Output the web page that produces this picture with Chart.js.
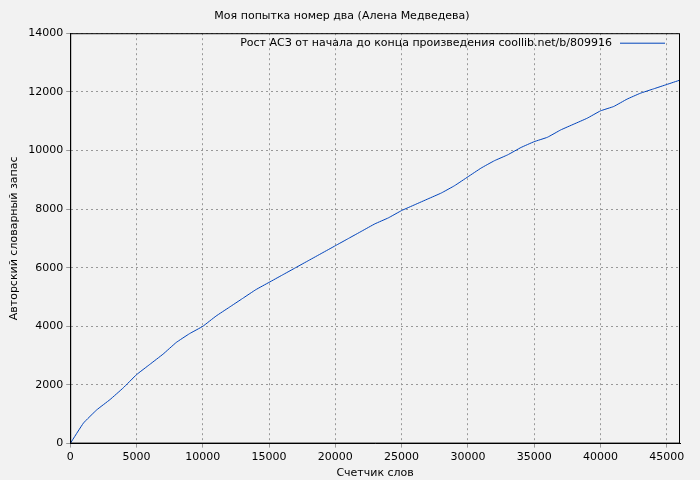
<!DOCTYPE html>
<html>
<head>
<meta charset="utf-8">
<script src="https://cdn.jsdelivr.net/npm/chart.js@4"></script>
<style>
  body { margin: 0; background: #f2f2f2; }
  #wrap { width: 700px; height: 480px; }
</style>
</head>
<body>
<div id="wrap"><canvas id="chart"></canvas></div>
<script>
const words = [0, 1000, 2000, 3000, 4000, 5000, 6000, 7000, 8000, 9000, 10000, 11000, 12000, 13000, 14000, 15000,
  16000, 17000, 18000, 19000, 20000, 21000, 22000, 23000, 24000, 25000, 26000, 27000, 28000, 29000, 30000,
  31000, 32000, 33000, 34000, 35000, 36000, 37000, 38000, 39000, 40000, 41000, 42000, 43000, 44000, 45000, 46000];
const vocab = [0, 700, 1150, 1500, 1900, 2350, 2700, 3050, 3450, 3750, 4000, 4350, 4650, 4950, 5250, 5500,
  5750, 6000, 6250, 6500, 6750, 7000, 7250, 7500, 7700, 7950, 8150, 8350, 8550, 8800, 9100,
  9400, 9650, 9850, 10100, 10300, 10450, 10700, 10900, 11100, 11350, 11500, 11750, 11950, 12100, 12250, 12400];
const xTicks = [0, 5000, 10000, 15000, 20000, 25000, 30000, 35000, 40000, 45000];
const seriesLabel = 'Рост АСЗ от начала до конца произведения coollib.net/b/809916';

const font = { family: 'DejaVu Sans', size: 11 };

// legend drawn inside the plot, gnuplot style
const innerLegend = {
  id: 'innerLegend',
  afterDraw(chart) {
    const { ctx, chartArea } = chart;
    ctx.save();
    ctx.font = '11px "DejaVu Sans"';
    ctx.fillStyle = '#000';
    ctx.textAlign = 'right';
    ctx.textBaseline = 'middle';
    const y = chartArea.top + 10;
    ctx.fillText(seriesLabel, chartArea.right - 68, y);
    ctx.strokeStyle = '#0044bb';
    ctx.lineWidth = 1;
    ctx.beginPath();
    ctx.moveTo(chartArea.right - 60, y);
    ctx.lineTo(chartArea.right - 15, y);
    ctx.stroke();
    ctx.restore();
  }
};

new Chart(document.getElementById('chart'), {
  type: 'line',
  data: {
    datasets: [{
      label: seriesLabel,
      data: words.map((w, i) => ({ x: w, y: vocab[i] })),
      borderColor: '#0044bb',
      borderWidth: 1,
      pointRadius: 0,
      tension: 0.1,
      fill: false
    }]
  },
  options: {
    responsive: true,
    maintainAspectRatio: false,
    animation: false,
    layout: { padding: { right: 20, top: 2, left: 4 } },
    plugins: {
      legend: { display: false },
      title: { display: true, text: 'Моя попытка номер два (Алена Медведева)', color: '#000',
        font: { family: 'DejaVu Sans', size: 11, weight: 'normal' }, padding: { top: 8, bottom: 10 } }
    },
    scales: {
      x: {
        type: 'linear', min: 0, max: 46000,
        afterBuildTicks: axis => { axis.ticks = xTicks.map(v => ({ value: v })); },
        ticks: { color: '#000', font: font, autoSkip: false, maxRotation: 0, callback: v => String(v) },
        grid: { color: '#999', tickLength: 4 },
        border: { color: '#000', dash: [2, 3] },
        title: { display: true, text: 'Счетчик слов', color: '#000', font: font, padding: 0 }
      },
      y: {
        min: 0, max: 14000,
        ticks: { stepSize: 2000, color: '#000', font: font, callback: v => String(v) },
        grid: { color: '#999', tickLength: 4 },
        border: { color: '#000', dash: [2, 3] },
        title: { display: true, text: 'Авторский словарный запас', color: '#000', font: font }
      }
    }
  },
  plugins: [innerLegend, {
    id: 'frame',
    afterDraw(chart) {
      const { ctx, chartArea: a } = chart;
      ctx.save();
      ctx.strokeStyle = '#000';
      ctx.lineWidth = 1;
      ctx.strokeRect(a.left + 0.5, a.top + 0.5, a.width - 1, a.height - 1);
      ctx.restore();
    }
  }]
});
</script>
</body>
</html>
